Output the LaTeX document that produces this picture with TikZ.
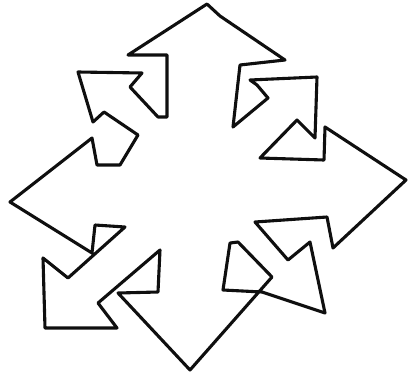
\documentclass[tikz,border=0pt]{standalone}
\usepackage{xcolor}
\usepackage{tikz}
\definecolor{ink}{RGB}{15,15,15}
\tikzset{
  outline/.style = {draw=ink, line width=3.1pt, line join=round, line cap=round},
}

\begin{document}
\begin{tikzpicture}[x=1pt, y=-1pt]
\useasboundingbox (0,0) rectangle (409,378);
% one closed outline, going round clockwise from the top tip
\draw[outline]
  % top arrow, right half
  (207,4) -- (220,16) -- (285,60) -- (240,65) -- (233,127)
  % upper right small arrow
  -- (268,98) -- (257,85) -- (250,80) -- (317,77) -- (315,138)
  -- (297,120) -- (260,158) -- (324,160) -- (325,127)
  % right arrow
  -- (406,180) -- (333,248) -- (327,217) -- (255,222)
  % lower right small arrow
  -- (288,260) -- (310,242) -- (325,313) -- (262,292) -- (223,290)
  -- (230,243) -- (238,242) -- (272,277)
  % bottom arrow
  -- (190,370) -- (118,293) -- (158,292) -- (160,250)
  % lower left small arrow
  -- (98,303) -- (117,328) -- (45,328) -- (43,258) -- (68,278)
  -- (125,227) -- (95,225) -- (92,253)
  % left arrow
  -- (10,202) -- (92,138) -- (97,165) -- (120,165) -- (138,135)
  % upper left small arrow
  -- (104,112) -- (93,122) -- (78,72) -- (142,73) -- (130,87)
  -- (158,117) -- (167,117) -- (167,55)
  % top arrow, left half
  -- (128,55) -- cycle;
\end{tikzpicture}
\end{document}
